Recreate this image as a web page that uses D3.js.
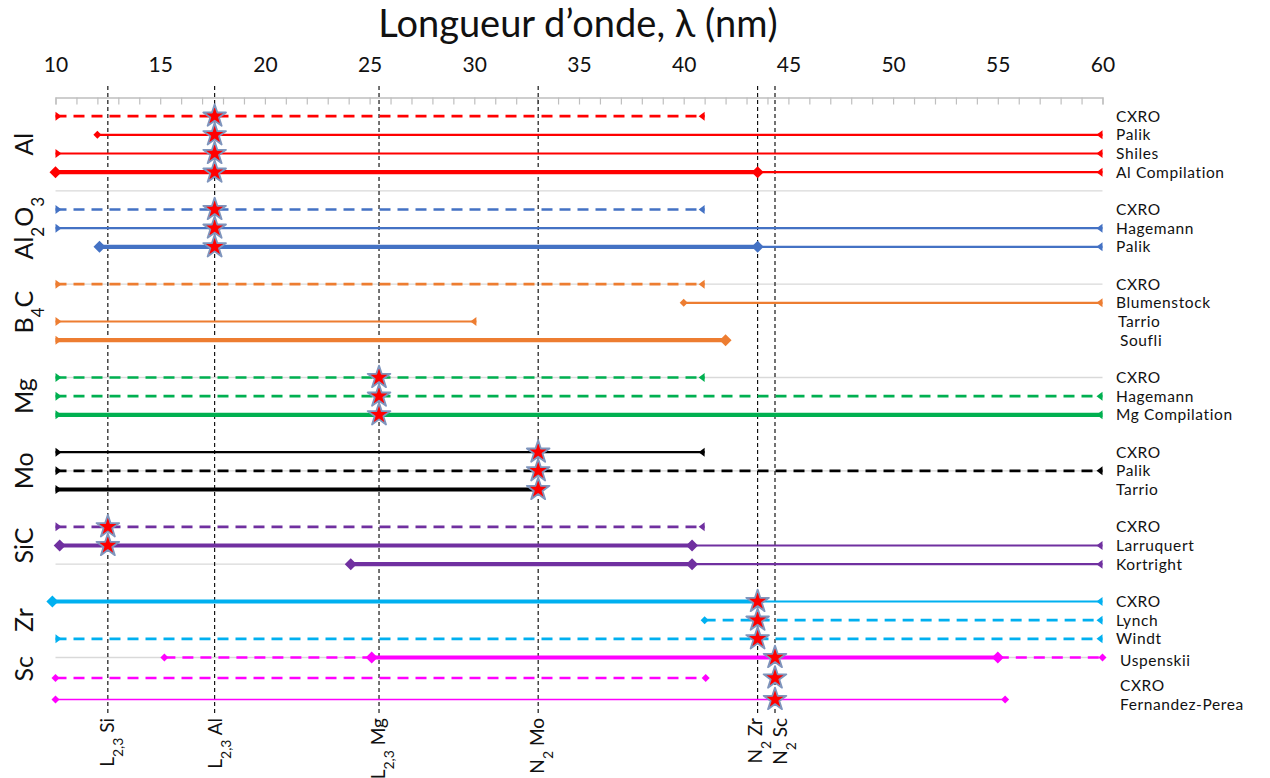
<!DOCTYPE html>
<html>
<head>
<meta charset="utf-8">
<script src="https://cdn.jsdelivr.net/npm/d3@7"></script>
<style>
  html, body { margin: 0; padding: 0; background: #fff; }
  text { font-family: Lato, "Open Sans", sans-serif; fill: #111; }
</style>
</head>
<body>
<svg id="chart" width="1270" height="778"></svg>
<script>
// ---------------- DATA ----------------
const xTicks = [10, 15, 20, 25, 30, 35, 40, 45, 50, 55, 60];
const titleText = "Longueur d\u2019onde, \u03bb (nm)";

// groups (labels: even index = normal, odd index = subscript)
const groupLabels = [["Al"], ["Al", "2", "O", "3"], ["B", "4", "C"], ["Mg"], ["Mo"], ["SiC"], ["Zr"], ["Sc"]];
const groupLabelRows = [2.5, 7, 11.5, 16, 20, 24, 28, 30.6];
const gridRows = [5, 10, 15, 20, 25, 30];

// absorption edges (nm)
const edgeLabels = [["L", "2,3", " Si"], ["L", "2,3", " Al"], ["L", "2,3", " Mg"], ["N", "2", " Mo"], ["N", "2", " Zr"], ["N", "2", " Sc"]];
const edgeValues = [12.5, 17.6, 25.45, 33.05, 43.53, 44.36];

// series
const seriesGroup = [0, 0, 0, 0, 1, 1, 1, 2, 2, 2, 2, 3, 3, 3, 4, 4, 4, 5, 5, 5, 6, 6, 6, 7, 7, 7];
const seriesName = ["CXRO", "Palik", "Shiles", "Al Compilation",
  "CXRO", "Hagemann", "Palik",
  "CXRO", "Blumenstock", "Tarrio", "Soufli",
  "CXRO", "Hagemann", "Mg Compilation",
  "CXRO", "Palik", "Tarrio",
  "CXRO", "Larruquert", "Kortright",
  "CXRO", "Lynch", "Windt",
  "Uspenskii", "CXRO", "Fernandez-Perea"];
const seriesRow = [1, 2, 3, 4, 6, 7, 8, 10, 11, 12, 13, 15, 16, 17, 19, 20, 21, 23, 24, 25, 27, 28, 29, 30, 31.1, 32.25];
const seriesLabelRow = [1, 2, 3, 4, 6, 7, 8, 10, 11, 12, 13, 15, 16, 17, 19, 20, 21, 23, 24, 25, 27, 28, 29, 30.15, 31.5, 32.5];
const seriesLabelIndent = [0, 0, 0, 0, 0, 0, 0, 0, 0, 1, 2, 0, 0, 0, 0, 0, 0, 0, 0, 0, 0, 0, 0, 2, 2, 2];
const seriesBreaks = [
  [10, 41], [12, 60], [10, 60], [10, 43.53, 60],
  [10, 41], [10, 60], [12.1, 43.53, 60],
  [10, 41], [40, 60], [10, 30.1], [10, 42],
  [10, 41], [10, 60], [10, 60],
  [10, 41], [10, 60], [10, 33.05],
  [10, 41], [10.2, 40.4, 60], [24.1, 40.4, 60],
  [9.85, 43.53, 60], [41, 60], [10, 60],
  [15.2, 25.1, 55, 60], [10, 41.05], [10, 55.35]
];
// segment kinds: d = dashed, s = solid, t = thick, f = fine
const seriesKinds = [
  ["d"], ["s"], ["s"], ["t", "s"],
  ["d"], ["s"], ["t", "s"],
  ["d"], ["s"], ["s"], ["t"],
  ["d"], ["d"], ["t"],
  ["s"], ["d"], ["t"],
  ["d"], ["t", "s"], ["t", "s"],
  ["t", "s"], ["d"], ["d"],
  ["d", "t", "d"], ["d"], ["f"]
];
// markers at each break: tri, dot, dia, none
const seriesMarks = [
  ["tri", "tri"], ["dot", "tri"], ["tri", "tri"], ["dia", "dia", "tri"],
  ["tri", "tri"], ["tri", "tri"], ["dia", "dia", "tri"],
  ["tri", "tri"], ["dot", "tri"], ["tri", "tri"], ["tri", "dia"],
  ["tri", "tri"], ["tri", "tri"], ["tri", "tri"],
  ["tri", "tri"], ["tri", "tri"], ["tri", "tri"],
  ["tri", "tri"], ["dia", "dia", "tri"], ["dia", "dia", "tri"],
  ["dia", "none", "tri"], ["dot", "tri"], ["tri", "tri"],
  ["dot", "dia", "dia", "dot"], ["dot", "dot"], ["dot", "dot"]
];
// stars: edge index per row
const starRows = [1, 2, 3, 4, 6, 7, 8, 15, 16, 17, 19, 20, 21, 23, 24, 27, 28, 29, 30, 31.1, 32.25];
const starEdge = [1, 1, 1, 1, 1, 1, 1, 2, 2, 2, 3, 3, 3, 0, 0, 4, 4, 4, 5, 5, 5];

// ---------------- STYLE / LAYOUT ----------------
const groupColors = ["#ff0000", "#4472c4", "#ed7d31", "#00b050", "#000000", "#7030a0", "#00b0f0", "#ff00ff"];
const kindStyle = {
  d: { w: 2.6, dash: "11,7" },
  s: { w: 2.2, dash: null },
  t: { w: 4.2, dash: null },
  f: { w: 1.5, dash: null }
};
const edgeLabelShift = [0, 1, 0, 0, -2, 6];

const svg = d3.select("#chart");
const x = d3.scaleLinear().domain([10, 60]).range([55.5, 1102.5]);
const y = d3.scaleLinear().domain([0, 30]).range([97.5, 657.5]);

svg.append("rect").attr("width", 1270).attr("height", 778).attr("fill", "#fff");

// title
svg.append("text").attr("x", 578).attr("y", 37).attr("text-anchor", "middle")
  .style("font-size", "38px").text(titleText);

// gridlines
svg.append("g").selectAll("line").data(gridRows).join("line")
  .attr("x1", x(10)).attr("x2", x(60))
  .attr("y1", d => y(d)).attr("y2", d => y(d))
  .attr("stroke", "#d9d9d9").attr("stroke-width", 1.3);

// top axis with minor ticks
const axisG = svg.append("g").attr("transform", `translate(0,${y(0)})`);
axisG.call(d3.axisBottom(x).ticks(50).tickSize(7).tickFormat(""));
axisG.select(".domain").attr("stroke", "#bfbfbf").attr("stroke-width", 1.3);
axisG.selectAll(".tick line").attr("stroke", "#bfbfbf").attr("stroke-width", 1.2);

const labelAxis = svg.append("g").attr("transform", `translate(0,${y(0) - 26})`);
labelAxis.call(d3.axisTop(x).tickValues(xTicks).tickSize(0).tickPadding(0).tickFormat(d3.format("d")));
labelAxis.select(".domain").remove();
labelAxis.selectAll("text").style("font-size", "21px").style("font-family", "Lato, sans-serif").attr("fill", "#111");

// edge vertical dashed lines
svg.append("g").selectAll("line").data(edgeValues).join("line")
  .attr("x1", d => x(d)).attr("x2", d => x(d))
  .attr("y1", 86).attr("y2", 713)
  .attr("stroke", "#000").attr("stroke-width", 1.1).attr("stroke-dasharray", "4,3");

// series
const seriesG = svg.append("g");
seriesName.forEach((name, i) => {
  const col = groupColors[seriesGroup[i]];
  const yy = y(seriesRow[i]);
  const br = seriesBreaks[i];
  const kinds = seriesKinds[i];
  const g = seriesG.append("g");
  for (let k = 0; k < kinds.length; k++) {
    const st = kindStyle[kinds[k]];
    const ln = g.append("line")
      .attr("x1", x(br[k])).attr("x2", x(br[k + 1]))
      .attr("y1", yy).attr("y2", yy)
      .attr("stroke", col).attr("stroke-width", st.w);
    if (st.dash) ln.attr("stroke-dasharray", st.dash);
  }
  seriesMarks[i].forEach((m, k) => {
    const px = x(br[k]);
    const isLast = k === br.length - 1;
    if (m === "tri") {
      const dir = isLast ? -1 : 1;
      g.append("path")
        .attr("d", `M${px},${yy - 4.5}L${px + dir * 6},${yy}L${px},${yy + 4.5}Z`)
        .attr("fill", col);
    } else if (m === "dia" || m === "dot") {
      const r = m === "dia" ? 6 : 4;
      g.append("path")
        .attr("d", `M${px},${yy - r}L${px + r},${yy}L${px},${yy + r}L${px - r},${yy}Z`)
        .attr("fill", col);
    }
  });
});

// stars
svg.append("g").selectAll("path").data(starRows).join("path")
  .attr("transform", (d, i) => `translate(${x(edgeValues[starEdge[i]])},${y(d)})`)
  .attr("d", d3.symbol().type(d3.symbolStar).size(160))
  .attr("fill", "#ff0000").attr("stroke", "#7f95bd").attr("stroke-width", 1.8)
  .attr("stroke-linejoin", "round");

// right labels
svg.append("g").selectAll("text").data(seriesName).join("text")
  .attr("x", (d, i) => 1116 + seriesLabelIndent[i] * 2).attr("y", (d, i) => y(seriesLabelRow[i]))
  .attr("dy", "0.35em").style("font-size", "15.5px").style("letter-spacing", "0.6px").text(d => d);

// group labels (rotated)
groupLabels.forEach((parts, i) => {
  const t = svg.append("text")
    .attr("transform", `translate(33,${y(groupLabelRows[i])}) rotate(-90)`)
    .attr("text-anchor", "middle").style("font-size", "25px");
  parts.forEach((p, k) => {
    const ts = t.append("tspan").text(p);
    if (k % 2 === 1) ts.attr("baseline-shift", "sub").style("font-size", "17px");
  });
});

// edge labels (rotated, bottom)
edgeLabels.forEach((parts, i) => {
  const t = svg.append("text")
    .attr("transform", `translate(${x(edgeValues[i]) + 6 + edgeLabelShift[i]},718) rotate(-90)`)
    .attr("text-anchor", "end").style("font-size", "19px");
  parts.forEach((p, k) => {
    const ts = t.append("tspan").text(p);
    if (k === 1) ts.attr("baseline-shift", "sub").style("font-size", "14px");
  });
});
</script>
</body>
</html>
